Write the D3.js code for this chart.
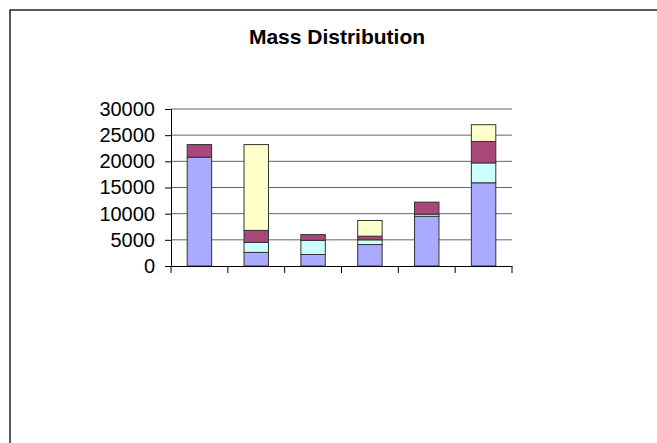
<!DOCTYPE html>
<html>
<head>
<meta charset="utf-8">
<script src="https://cdn.jsdelivr.net/npm/d3@7"></script>
<style>
  body { margin: 0; background: #fff; }
  svg { display: block; font-family: Arial, "Liberation Sans", sans-serif; }
</style>
</head>
<body>
<div id="chart"></div>
<script>
var categories = ['1', '2', '3', '4', '5', '6'];
var seriesNames = ['Series1', 'Series2', 'Series3', 'Series4'];
var series1 = [20800, 2600, 2200, 4100, 9500, 15900];
var series2 = [0, 1900, 2700, 900, 400, 3800];
var series3 = [2400, 2300, 1100, 700, 2300, 4100];
var series4 = [0, 16400, 0, 3000, 0, 3200];
var yTicks = [0, 5000, 10000, 15000, 20000, 25000, 30000];
var colors = ['#aaaaff', '#ccffff', '#a9477a', '#ffffcc'];

var width = 657, height = 443;

var svg = d3.select('#chart')
  .append('svg')
  .attr('width', width)
  .attr('height', height);

// frame
svg.append('rect')
  .attr('x', 10).attr('y', 10)
  .attr('width', 700).attr('height', 500)
  .attr('fill', 'none')
  .attr('stroke', '#222')
  .attr('stroke-width', 1.5);

svg.append('text')
  .attr('x', 337).attr('y', 44)
  .attr('text-anchor', 'middle')
  .attr('font-size', 21)
  .attr('font-weight', 'bold')
  .text('Mass Distribution');

var rows = categories.map(function (c, i) {
  return { cat: c, Series1: series1[i], Series2: series2[i], Series3: series3[i], Series4: series4[i] };
});

var stacked = d3.stack().keys(seriesNames)(rows);

var x = d3.scaleBand()
  .domain(categories)
  .range([171, 512]);

var y = d3.scaleLinear()
  .domain([0, 30000])
  .range([266, 109]);

// gridlines
svg.append('g')
  .selectAll('line')
  .data(yTicks.slice(1))
  .enter()
  .append('line')
  .attr('x1', 171).attr('x2', 512)
  .attr('y1', function (d) { return y(d); })
  .attr('y2', function (d) { return y(d); })
  .attr('stroke', '#666')
  .attr('stroke-width', 1);

var barW = x.bandwidth() * 0.43;

svg.append('g')
  .selectAll('g')
  .data(stacked)
  .enter()
  .append('g')
  .attr('fill', function (d, i) { return colors[i]; })
  .selectAll('rect')
  .data(function (d) { return d.filter(function (p) { return p[1] > p[0]; }); })
  .enter()
  .append('rect')
  .attr('x', function (d) { return x(d.data.cat) + (x.bandwidth() - barW) / 2; })
  .attr('y', function (d) { return y(d[1]); })
  .attr('width', barW)
  .attr('height', function (d) { return y(d[0]) - y(d[1]); })
  .attr('stroke', '#333')
  .attr('stroke-width', 1);

// y axis
var yAxis = svg.append('g')
  .attr('transform', 'translate(171,0)')
  .call(d3.axisLeft(y).tickValues(yTicks).tickSize(6).tickPadding(10).tickFormat(d3.format('d')));
yAxis.select('.domain').attr('stroke', '#000');
yAxis.selectAll('.tick line').attr('stroke', '#000');
yAxis.selectAll('text').attr('font-size', 20).attr('fill', '#000').attr('font-family', 'Arial, "Liberation Sans", sans-serif');

// x axis
var xAxis = svg.append('g')
  .attr('transform', 'translate(0,266)')
  .call(d3.axisBottom(x).tickValues([]).tickSizeOuter(0));
xAxis.select('.domain').attr('stroke', '#000');
xAxis.selectAll('.cat-tick')
  .data(d3.range(categories.length + 1))
  .enter()
  .append('line')
  .attr('class', 'cat-tick')
  .attr('x1', function (i) { return i < categories.length ? x(categories[i]) : x.range()[1]; })
  .attr('x2', function (i) { return i < categories.length ? x(categories[i]) : x.range()[1]; })
  .attr('y1', 0).attr('y2', 7)
  .attr('stroke', '#000');
</script>
</body>
</html>
